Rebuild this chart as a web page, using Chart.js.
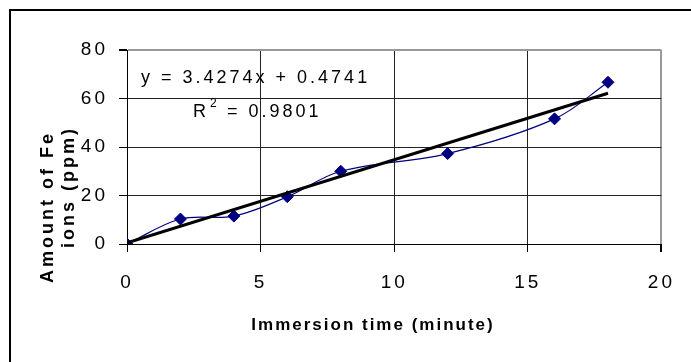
<!DOCTYPE html>
<html lang="en">
<head>
    <meta charset="UTF-8">
    <title>Fe ions vs immersion time</title>
    <script src="https://cdn.jsdelivr.net/npm/chart.js"></script>
    <style>
        body { margin: 0; background: #fff; }
        #wrap { width: 691px; height: 362px; }
    </style>
</head>
<body>
<div id="wrap"><canvas id="feChart" width="691" height="362"></canvas></div>
<script>
    // values
    const times = [0, 2, 4, 6, 8, 12, 16, 18];                 // minute
    const feIons = [0, 10.3, 11.5, 19.5, 30.0, 37.3, 51.6, 66.7]; // ppm
    const trendTimes = [0, 18];
    const trendValues = [0.47, 62.17];
    const xTicks = [0, 5, 10, 15, 20];
    const yTicks = [0, 20, 40, 60, 80];
    const equationText = 'y = 3.4274x + 0.4741';
    const r2Text = '0.9801';

    const FONT = "'Liberation Sans Narrow', 'Arial Narrow', 'Liberation Sans', Arial, sans-serif";

    // 외곽선, 축 제목, 추세선 식
    const decorations = {
        id: 'decorations',
        beforeDraw(chart) {
            const ctx = chart.ctx;
            ctx.save();
            ctx.strokeStyle = '#000';
            ctx.lineWidth = 2;
            ctx.beginPath();
            ctx.moveTo(10, 362);
            ctx.lineTo(10, 10);
            ctx.lineTo(691, 10);
            ctx.stroke();
            ctx.restore();
            ctx.letterSpacing = '3px'; // tick labels are spread out
        },
        afterDraw(chart) {
            const ctx = chart.ctx;
            ctx.save();
            ctx.fillStyle = '#000';
            ctx.textBaseline = 'middle';

            // y title, two rotated lines
            ctx.letterSpacing = '3px';
            ctx.font = 'bold 18px ' + FONT;
            ctx.textAlign = 'right';
            [['Amount of Fe', 48, 131], ['ions (ppm)', 69, 126]].forEach(([t, x, y]) => {
                ctx.save();
                ctx.translate(x, y);
                ctx.rotate(-Math.PI / 2);
                ctx.fillText(t, 0, 0);
                ctx.restore();
            });

            // x title
            ctx.letterSpacing = '2px';
            ctx.font = 'bold 17px ' + FONT;
            ctx.textAlign = 'center';
            ctx.fillText('Immersion time (minute)', 373, 325);

            // trendline equation
            ctx.letterSpacing = '3px';
            ctx.font = '18px ' + FONT;
            ctx.textAlign = 'left';
            ctx.fillText(equationText, 141, 78);
            ctx.fillText('R', 193, 112);
            ctx.font = '12px ' + FONT;
            ctx.fillText('2', 210, 104);
            ctx.font = '18px ' + FONT;
            ctx.fillText('= ' + r2Text, 227, 112);
            ctx.restore();
        }
    };

    const ctx = document.getElementById('feChart').getContext('2d');
    new Chart(ctx, {
        type: 'scatter',
        data: {
            datasets: [{
                label: 'Trend',
                data: trendTimes.map((t, i) => ({ x: t, y: trendValues[i] })),
                showLine: true,
                borderColor: '#000',
                borderWidth: 3,
                pointRadius: 0,
                order: 0
            }, {
                label: 'Fe ions',
                data: times.map((t, i) => ({ x: t, y: feIons[i] })),
                showLine: true,
                tension: 0.35,
                borderColor: '#000080',
                borderWidth: 1.2,
                pointStyle: 'rectRot',
                pointRadius: 6,
                pointBackgroundColor: '#000080',
                pointBorderColor: '#000080',
                pointBorderWidth: 1,
                order: 1
            }]
        },
        options: {
            responsive: false,
            animation: false,
            layout: { padding: { left: 0, top: 50, right: 24, bottom: 0 } },
            plugins: { legend: { display: false }, tooltip: { enabled: false } },
            scales: {
                x: {
                    type: 'linear',
                    min: 0, max: 20,
                    afterBuildTicks: s => { s.ticks = xTicks.map(v => ({ value: v })); },
                    afterFit: s => { s.height = 118; },
                    grid: {
                        color: c => c.tick && c.tick.value === 20 ? '#999' : '#222',
                        lineWidth: c => c.tick && c.tick.value === 20 ? 2 : 1,
                        tickLength: 8,
                        tickColor: '#000'
                    },
                    border: { color: '#000', width: 1 },
                    ticks: { color: '#000', padding: 19, maxRotation: 0, font: { family: FONT, size: 19 } }
                },
                y: {
                    type: 'linear',
                    min: 0, max: 80,
                    afterBuildTicks: s => { s.ticks = yTicks.map(v => ({ value: v })); },
                    afterFit: s => { s.width = 127; },
                    grid: {
                        color: c => c.tick && c.tick.value === 80 ? '#999' : '#222',
                        lineWidth: c => c.tick && c.tick.value === 80 ? 2 : 1,
                        tickLength: 8,
                        tickColor: '#000'
                    },
                    border: { color: '#000', width: 1 },
                    ticks: { color: '#000', padding: 11, font: { family: FONT, size: 19 } }
                }
            }
        },
        plugins: [decorations]
    });
</script>
</body>
</html>
